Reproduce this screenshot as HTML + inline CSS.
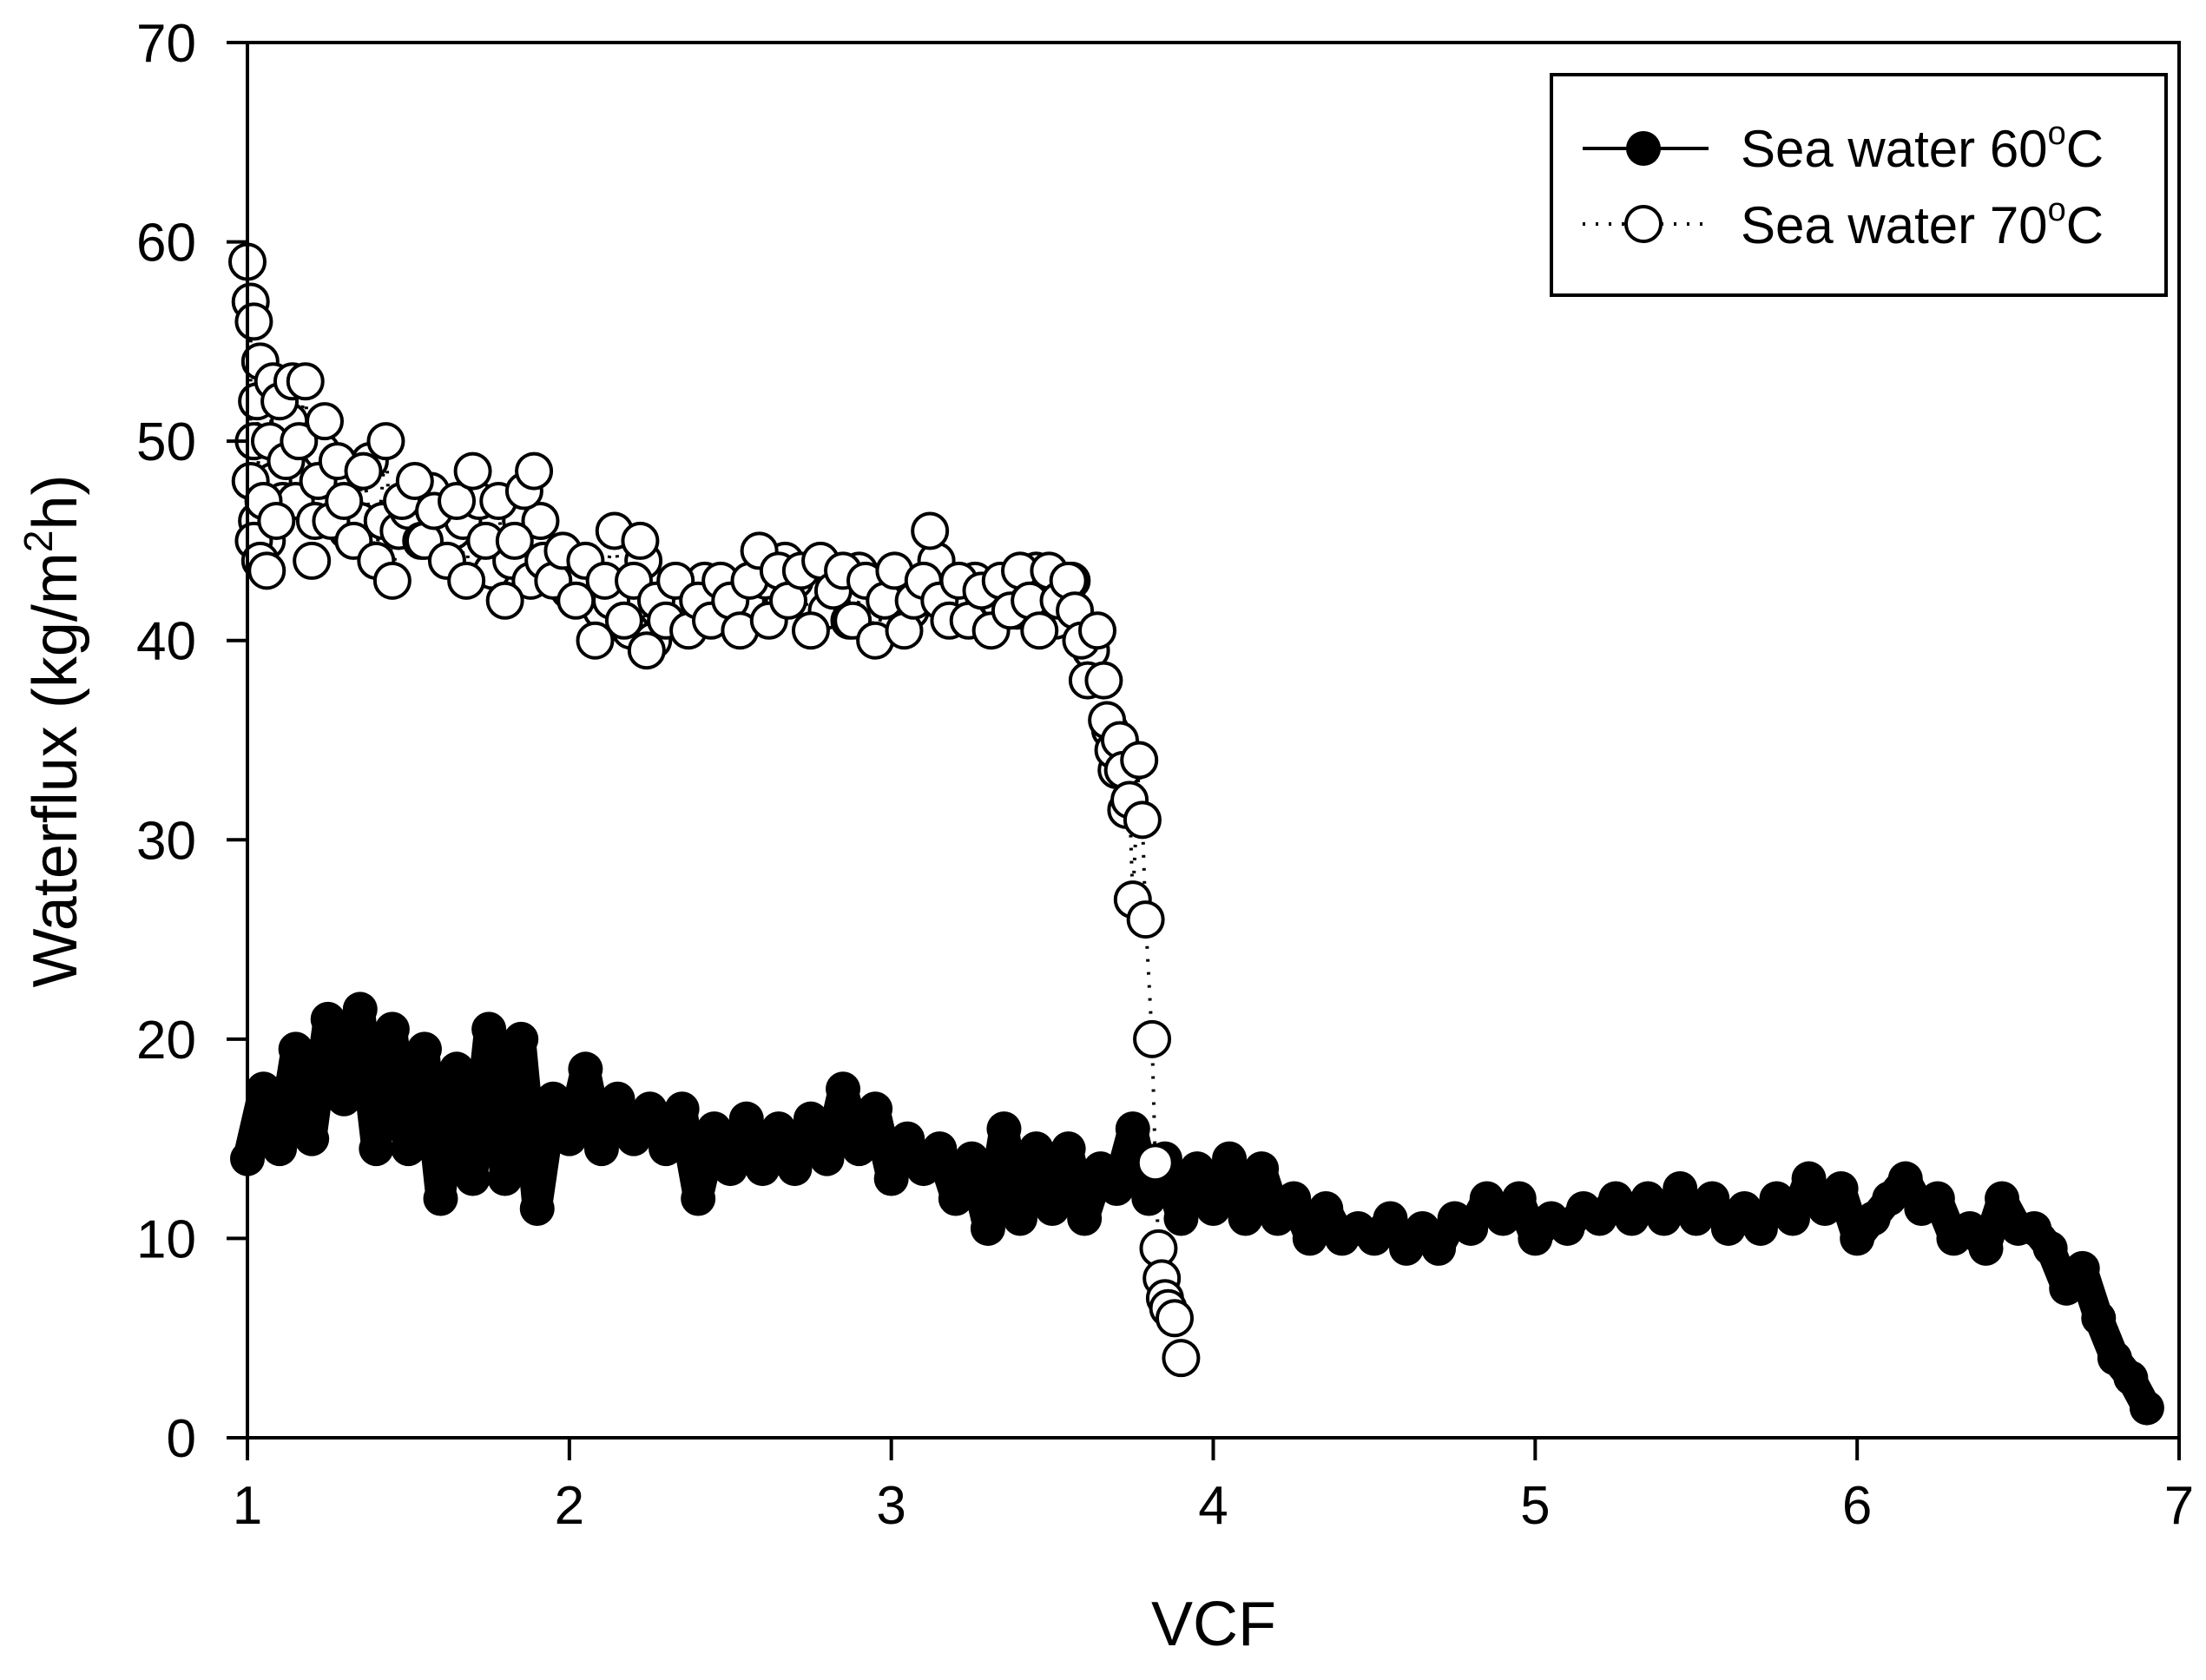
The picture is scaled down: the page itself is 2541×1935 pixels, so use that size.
<!DOCTYPE html>
<html><head><meta charset="utf-8"><style>
html,body{margin:0;padding:0;background:#fff}
svg{display:block;font-family:"Liberation Sans",Arial,sans-serif}
</style></head><body>
<svg id="chart" width="2541" height="1935" viewBox="0 0 2541 1935" xmlns="http://www.w3.org/2000/svg">
<rect width="2541" height="1935" fill="#fff"/>
<g id="series"></g>
<g id="axes"></g>
<g>
<rect x="1787" y="86" width="708" height="254" fill="#fff" stroke="#000" stroke-width="4"/>
<g>
<line x1="1823" y1="171" x2="1968" y2="171" stroke="#000" stroke-width="4"/>
<circle cx="1893" cy="171" r="20" fill="#000"/>
<text x="2005" y="192" font-size="60">Sea water 60<tspan font-size="38" dy="-26">o</tspan><tspan dy="26">C</tspan></text>
</g>
<g>
<line x1="1823" y1="258" x2="1968" y2="258" stroke="#000" stroke-width="4" stroke-dasharray="3,12"/>
<circle cx="1893" cy="258" r="20" fill="#fff" stroke="#000" stroke-width="4"/>
<text x="2005" y="280" font-size="60">Sea water 70<tspan font-size="38" dy="-26">o</tspan><tspan dy="26">C</tspan></text>
</g>
</g>
<text x="1398" y="1895" font-size="72" text-anchor="middle">VCF</text>
<text transform="translate(88,842) rotate(-90)" font-size="72" text-anchor="middle">Waterflux (kg/m<tspan font-size="46" dy="-28">2</tspan><tspan dy="28">h)</tspan></text>
</svg>
<script>
const xTicks=[1,2,3,4,5,6,7];
const yTicks=[0,10,20,30,40,50,60,70];
const x60=[1.00,1.05,1.10,1.15,1.20,1.25,1.30,1.35,1.40,1.45,1.50,1.55,1.60,1.65,1.70,1.75,1.80,1.85,1.90,1.95,2.00,2.05,2.10,2.15,2.20,2.25,2.30,2.35,2.40,2.45,2.50,2.55,2.60,2.65,2.70,2.75,2.80,2.85,2.90,2.95,3.00,3.05,3.10,3.15,3.20,3.25,3.30,3.35,3.40,3.45,3.50,3.55,3.60,3.65,3.70,3.75,3.80,3.85,3.90,3.95,4.00,4.05,4.10,4.15,4.20,4.25,4.30,4.35,4.40,4.45,4.50,4.55,4.60,4.65,4.70,4.75,4.80,4.85,4.90,4.95,5.00,5.05,5.10,5.15,5.20,5.25,5.30,5.35,5.40,5.45,5.50,5.55,5.60,5.65,5.70,5.75,5.80,5.85,5.90,5.95,6.00,6.05,6.10,6.15,6.20,6.25,6.30,6.35,6.40,6.45,6.50,6.55,6.60,6.65,6.70,6.75,6.80,6.85,6.90];
const y60=[14,17.5,14.5,19.5,15,21,17,21.5,14.5,20.5,14.5,19.5,12,18.5,13,20.5,13,20,11.5,17,15,18.5,14.5,17,15,16.5,14.5,16.5,12,15.5,13.5,16,13.5,15.5,13.5,16,14,17.5,14.5,16.5,13,15,13.5,14.5,12,14,10.5,15.5,11,14.5,11.5,14.5,11,13.5,12.5,15.5,12,14,11,13.5,11.5,14,11,13.5,11,12,10,11.5,10,10.5,10,11,9.5,10.5,9.5,11,10.5,12,11,12,10,11,10.5,11.5,11,12,11,12,11,12.5,11,12,10.5,11.5,10.5,12,11,13,11.5,12.5,10,11,12,13,11.5,12,10,10.5,9.5,12,10.5,10.5,9.5,7.5,8.5,6,4,3,1.5];
const x70=[1.00,1.01,1.01,1.02,1.02,1.03,1.04,1.05,1.06,1.07,1.08,1.09,1.10,1.12,1.14,1.16,1.18,1.20,1.22,1.24,1.26,1.28,1.30,1.33,1.36,1.40,1.43,1.45,1.48,1.52,1.55,1.58,1.62,1.65,1.68,1.70,1.74,1.78,1.80,1.83,1.86,1.89,1.92,1.95,1.98,2.02,2.05,2.08,2.11,2.14,2.17,2.20,2.22,2.24,2.27,2.30,2.33,2.37,2.40,2.44,2.47,2.50,2.53,2.56,2.59,2.62,2.65,2.68,2.72,2.75,2.78,2.82,2.85,2.88,2.92,2.95,2.98,3.01,3.04,3.07,3.10,3.12,3.15,3.18,3.21,3.24,3.28,3.31,3.34,3.37,3.40,3.43,3.46,3.49,3.52,3.55,3.57,3.59,3.61,3.64,3.66,3.67,3.69,3.71,3.72,3.74,3.75,3.77,3.78,3.79,3.81,3.82,3.83,3.84,3.85,3.86,3.88,3.90];
const y70=[59,57,48,45,56,52,44,47,43.5,50,53,46,52,49,53,50,53,44,48,51,46,49,47,45,48.5,44,50,43,47,48,45,46.5,44,47,43,48.5,45,47,42,45,47.5,48.5,44,43,44.5,42,44,40,43,45.5,41,43,45,39.5,42,41,43,40.5,42,41,43,42,40.5,43,44.5,41,43.5,42,43.5,40.5,44,42.5,43.5,41,43,40,42,43.5,40.5,42,43,45.5,42,41,43,41,42.5,40.5,43,41.5,43.5,42,40.5,43.5,42,43,41.5,40,38,40.5,38,36,34.5,35,33.5,32,27,34,31,26,20,13.8,9.5,8,7,6.5,6,4];
const x70b=[1.02,1.03,1.04,1.06,1.08,1.11,1.13,1.15,1.19,1.21,1.23,1.27,1.31,1.35,1.38,1.42,1.47,1.50,1.54,1.57,1.60,1.64,1.67,1.72,1.76,1.82,1.85,1.88,1.91,1.97,2.00,2.04,2.10,2.13,2.19,2.23,2.26,2.35,2.42,2.49,2.55,2.61,2.67,2.70,2.80,2.87,2.90,3.00,3.06,3.14,3.20,3.26,3.33,3.39,3.45,3.51,3.56,3.62,3.68,3.70,3.73];
const y70b=[50,46,54,45,48,47,51,47,50,46,49.5,48,45.5,46,49,46,45.5,46.5,45,47.5,45,45.5,46,47,43.5,44,46,43,46,43.5,42.5,43,41.5,42,40.5,44,40,42,43,41.5,42,43,44,43,41.5,41,43.5,42.5,41.5,44,42,43,42,41.5,43.5,41,43,39.5,35.5,33.5,31.5];

const L=285,R=2510,T=49,B=1656;
function sx(v){return L+(v-1)/6*(R-L);}
function sy(v){return B-v/70*(B-T);}
const NS='http://www.w3.org/2000/svg';
function mk(tag,attrs,parent){const e=document.createElementNS(NS,tag);for(const k in attrs)e.setAttribute(k,attrs[k]);parent.appendChild(e);return e;}
const series=document.getElementById('series');
const axes=document.getElementById('axes');

// 60C series
let g60=mk('g',{},series);


let p60=mk('polyline',{points:x60.map((x,i)=>sx(x)+','+sy(y60[i])).join(' '),fill:'none',stroke:'#000','stroke-width':34,'stroke-linejoin':'round','stroke-linecap':'round'},g60);


x60.forEach((x,i)=>{const c=mk('circle',{cx:sx(x),cy:sy(y60[i]),r:20,fill:'#000'},g60);

});

// 70C series
let g70=mk('g',{},series);


let p70=mk('polyline',{points:x70.map((x,i)=>sx(x)+','+sy(y70[i])).join(' '),fill:'none',stroke:'#000','stroke-width':4,'stroke-dasharray':'3,12'},g70);


x70b.forEach((x,i)=>{const c=mk('circle',{cx:sx(x),cy:sy(y70b[i]),r:20,fill:'#fff',stroke:'#000','stroke-width':4},g70);

});
x70.forEach((x,i)=>{const c=mk('circle',{cx:sx(x),cy:sy(y70[i]),r:20,fill:'#fff',stroke:'#000','stroke-width':4},g70);

});

// axes frame
let fr=mk('rect',{x:L,y:T,width:R-L,height:B-T,fill:'none',stroke:'#000','stroke-width':4},axes);


xTicks.forEach(t=>{const x=sx(t);
const l=mk('line',{x1:x,y1:B,x2:x,y2:B+26,stroke:'#000','stroke-width':4},axes);


const tx=mk('text',{x:x,y:1755,'font-size':62,'text-anchor':'middle'},axes);tx.textContent=t;

});
yTicks.forEach(t=>{const y=sy(t);
const l=mk('line',{x1:L-24,y1:y,x2:L,y2:y,stroke:'#000','stroke-width':4},axes);


const tx=mk('text',{x:226,y:y+22,'font-size':62,'text-anchor':'end'},axes);tx.textContent=t;

});
</script>
</body></html>
